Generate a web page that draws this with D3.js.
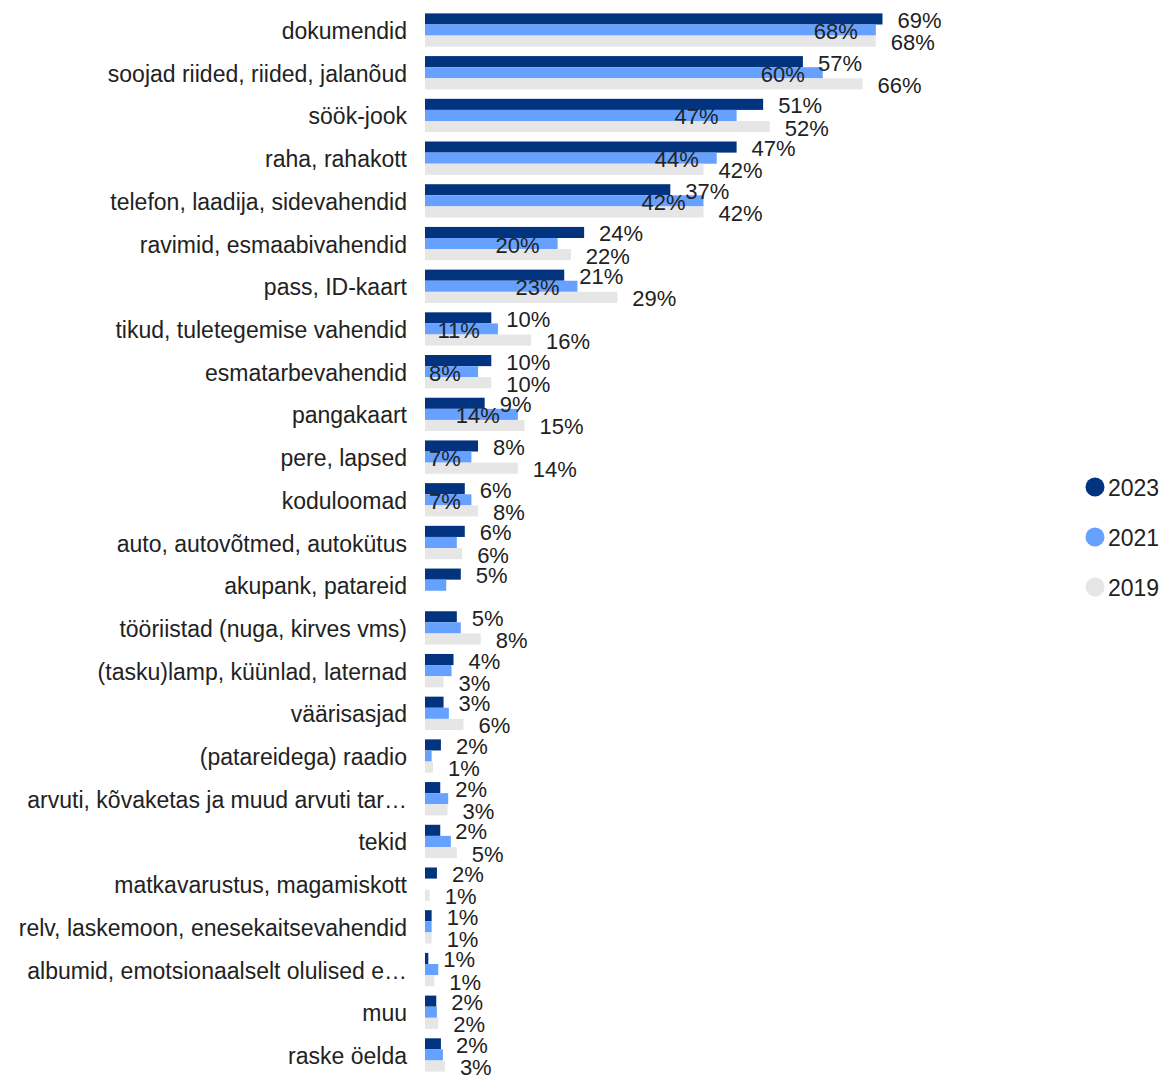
<!DOCTYPE html>
<html>
<head>
<meta charset="utf-8">
<script src="https://cdn.jsdelivr.net/npm/d3@7"></script>
<style>
  body { margin: 0; background: #fff; }
  text { font-family: "Liberation Sans", Arial, sans-serif; fill: #222; }
</style>
</head>
<body>
<div id="myData"></div>
<script>
// categories, top to bottom
var categories = [
  "dokumendid",
  "soojad riided, riided, jalanõud",
  "söök-jook",
  "raha, rahakott",
  "telefon, laadija, sidevahendid",
  "ravimid, esmaabivahendid",
  "pass, ID-kaart",
  "tikud, tuletegemise vahendid",
  "esmatarbevahendid",
  "pangakaart",
  "pere, lapsed",
  "koduloomad",
  "auto, autovõtmed, autokütus",
  "akupank, patareid",
  "tööriistad (nuga, kirves vms)",
  "(tasku)lamp, küünlad, laternad",
  "väärisasjad",
  "(patareidega) raadio",
  "arvuti, kõvaketas ja muud arvuti tar…",
  "tekid",
  "matkavarustus, magamiskott",
  "relv, laskemoon, enesekaitsevahendid",
  "albumid, emotsionaalselt olulised e…",
  "muu",
  "raske öelda"
];

var years = ["2023", "2021", "2019"];

// share of respondents, %
var values2023 = [69, 57, 51, 47, 37, 24, 21, 10, 10, 9, 8, 6, 6, 5.4, 4.8, 4.3, 2.8, 2.4, 2.3, 2.3, 1.8, 1, 0.5, 1.7, 2.4];
var values2021 = [68, 60, 47, 44, 42, 20, 23, 11, 8, 14, 7, 7, 4.8, 3.2, 5.4, 4, 3.6, 1, 3.5, 3.9, 0, 1, 2, 1.8, 2.7];
var values2019 = [68, 66, 52, 42, 42, 22, 29, 16, 10, 15, 14, 8, 5.6, null, 8.4, 2.8, 5.8, 1.2, 3.4, 4.8, 0.7, 1, 1.4, 2, 3];

var colors = ["#01337f", "#66a1ff", "#e6e6e6"];

var width = 1171, height = 1081;

var svg = d3.select("#myData")
  .append("svg")
  .attr("width", width)
  .attr("height", height);

// build rows
var rows = categories.map(function(c, i) {
  return {cat: c, vals: [values2023[i], values2021[i], values2019[i]]};
});

var x = d3.scaleLinear()
  .domain([0, 100])
  .range([425, 1088]);

var y = d3.scaleBand()
  .domain(categories)
  .range([4, 1081])
  .padding(0.22);

var ySub = d3.scaleBand()
  .domain(years)
  .range([0, y.bandwidth()]);

var color = d3.scaleOrdinal()
  .domain(years)
  .range(colors);

// category labels
svg.append("g")
  .selectAll("text")
  .data(categories)
  .enter()
  .append("text")
    .attr("x", 407)
    .attr("y", function(d) { return y(d) + y.bandwidth() / 2 + 1; })
    .attr("text-anchor", "end")
    .attr("dominant-baseline", "central")
    .style("font-size", "23px")
    .text(function(d) { return d; });

var groups = svg.append("g")
  .selectAll("g")
  .data(rows)
  .enter()
  .append("g")
    .attr("transform", function(d) { return "translate(0," + y(d.cat) + ")"; });

// bars
groups.selectAll("rect")
  .data(function(d) {
    return years.map(function(yr, j) { return {year: yr, v: d.vals[j]}; })
      .filter(function(e) { return e.v !== null && e.v > 0; });
  })
  .enter()
  .append("rect")
    .attr("x", x(0))
    .attr("y", function(d) { return ySub(d.year); })
    .attr("width", function(d) { return x(d.v) - x(0); })
    .attr("height", ySub.bandwidth())
    .style("fill", function(d) { return color(d.year); });

// value labels: 2023 and 2019 outside the bar, 2021 inside when it fits
var labelSize = 22;
groups.selectAll("text")
  .data(function(d) {
    return years.map(function(yr, j) { return {year: yr, v: d.vals[j]}; })
      .filter(function(e) { return e.v !== null && e.v > 0; });
  })
  .enter()
  .append("text")
    .attr("y", function(d) { return ySub(d.year) + ySub.bandwidth() / 2 + 1.5; })
    .attr("dominant-baseline", "central")
    .style("font-size", labelSize + "px")
    .text(function(d) { return Math.round(d.v) + "%"; })
    .each(function(d) {
      var t = d3.select(this);
      var end = x(d.v);
      if (d.year === "2021") {
        var w = this.getComputedTextLength();
        if (end - x(0) < w + 5) { t.remove(); return; }
        var right = Math.max(end - 18, x(0) + 4 + w);
        t.attr("x", right).attr("text-anchor", "end");
      } else {
        t.attr("x", end + 15).attr("text-anchor", "start");
      }
    });

// legend
var legend = svg.append("g")
  .selectAll("g")
  .data(years)
  .enter()
  .append("g")
    .attr("transform", function(d, i) { return "translate(1095," + (487 + i * 50) + ")"; });

legend.append("circle")
  .attr("r", 9.5)
  .style("fill", function(d) { return color(d); });

legend.append("text")
  .attr("x", 13)
  .attr("y", 1)
  .attr("dominant-baseline", "central")
  .style("font-size", "23px")
  .text(function(d) { return d; });
</script>
</body>
</html>
